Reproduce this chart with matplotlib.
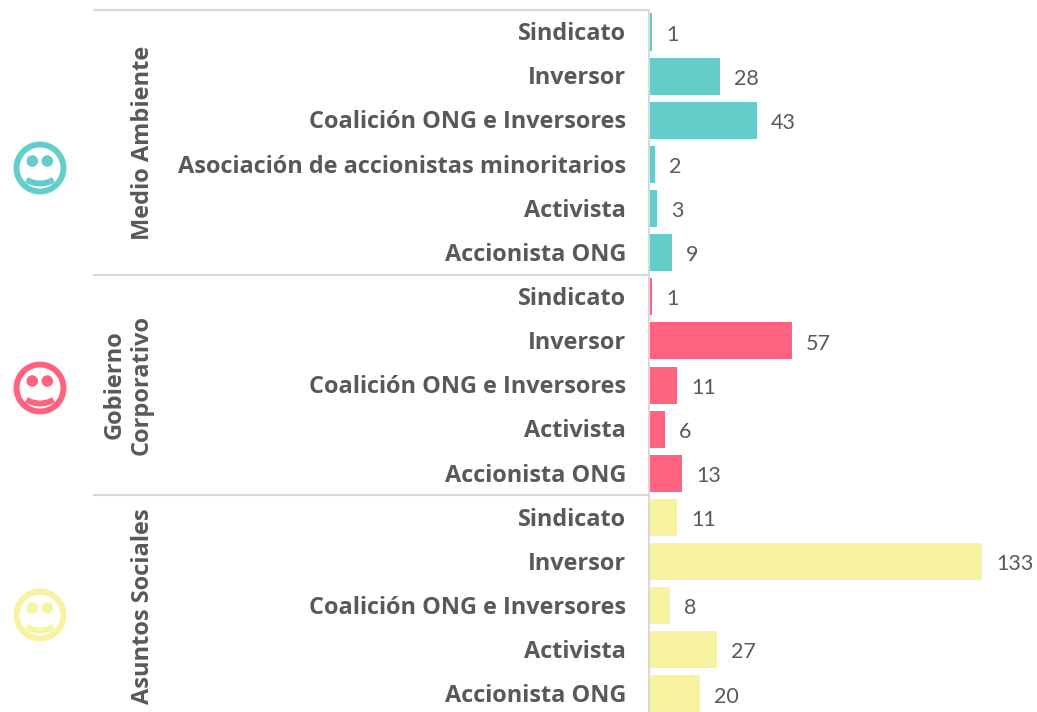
import matplotlib
matplotlib.use("Agg")
import matplotlib.pyplot as plt
from matplotlib.patches import Circle, Wedge

categories = ["Sindicato", "Inversor", "Coalición ONG e Inversores",
              "Asociación de accionistas minoritarios", "Activista", "Accionista ONG",
              "Sindicato", "Inversor", "Coalición ONG e Inversores", "Activista", "Accionista ONG",
              "Sindicato", "Inversor", "Coalición ONG e Inversores", "Activista", "Accionista ONG"]
values = [1, 28, 43, 2, 3, 9,
          1, 57, 11, 6, 13,
          11, 133, 8, 27, 20]
group_names = ["Medio Ambiente", "Gobierno\nCorporativo", "Asuntos Sociales"]
group_sizes = [6, 5, 5]
group_colors = ["#62CDC9", "#FF6380", "#F7F3A1"]

W, H = 1037, 712
fig = plt.figure(figsize=(W / 100, H / 100), dpi=100, facecolor="white")

# pixel-coordinate layer for decoration
bg = fig.add_axes([0, 0, 1, 1])
bg.set_xlim(0, W); bg.set_ylim(H, 0); bg.axis("off")

# chart axes: full figure, scaled so 0 sits at the axis line
ppu = 2.5; x0 = 649.5; y0 = 32.0; step = 44.13
ax = fig.add_axes([0, 0, 1, 1], facecolor="none")
ax.set_xlim(-x0 / ppu, (W - x0) / ppu)
ax.set_ylim((H - y0) / step, -y0 / step)
ax.axis("off")

colors = []
for c, n in zip(group_colors, group_sizes):
    colors += [c] * n
ypos = list(range(len(values)))
ax.barh(ypos, values, height=0.84, color=colors, zorder=3)

txt = "#595959"
for y, v, c in zip(ypos, values, categories):
    ax.text(-9.3, y + 0.05, c, ha="right", va="center", fontsize=16.9, fontweight="bold",
            family="Open Sans", color=txt)
    ax.text(v + 5.6, y + 0.06, str(v), ha="left", va="center", fontsize=15.5,
            family="Lato", color=txt)

# group separators, labels and axis line
line = "#D9D9D9"
axis_x = -1.0 / ppu
ax.plot([axis_x, axis_x], [-0.5, (H - y0) / step], color=line, lw=1.5, clip_on=False, zorder=2)
start = 0
label_x = [143, 128, 143]
for name, n, lx in zip(group_names, group_sizes, label_x):
    ax.plot([(94 - x0) / ppu, axis_x], [start - 0.5, start - 0.5], color=line, lw=1.5, zorder=2)
    mid = start + (n - 1) / 2
    ax.text((lx - x0) / ppu, mid + 0.02 if n == 6 else mid, name, rotation=90, ha="center", va="center",
            multialignment="center", fontsize=17, fontweight="bold", family="Open Sans",
            color=txt, linespacing=1.2)
    start += n

# smileys
for cy, c in zip([168, 388, 615], group_colors):
    bg.add_patch(Circle((40, cy), 23.5, fill=False, ec=c, lw=4.3))
    bg.add_patch(Circle((32.3, cy - 7), 5.8, fc=c, ec="none"))
    bg.add_patch(Circle((47.3, cy - 7), 5.8, fc=c, ec="none"))
    bg.add_patch(Wedge((40, cy - 10), 28.5, 58, 122, width=6, fc=c, ec="none"))

fig.savefig("out.png", dpi=100, facecolor="white")
